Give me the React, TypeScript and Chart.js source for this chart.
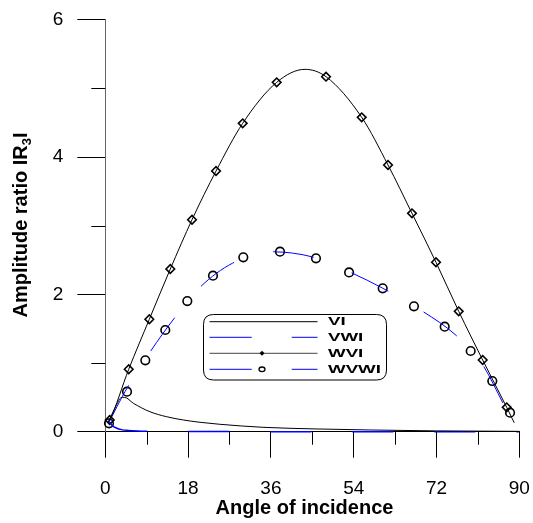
import React, { useEffect, useRef } from "react";
import { Chart, registerables } from "chart.js";

Chart.register(...registerables);

// ---- Data ----
// VI (thin black line)
const viX = [0.6, 1.5, 2.5, 3.3, 4.2, 6.1, 9.7, 13.35, 17, 20.6, 24.9, 34.3, 46, 57.5, 72, 90];
const viY = [0.14, 0.26, 0.4, 0.49, 0.5, 0.414, 0.291, 0.218, 0.17, 0.137, 0.108, 0.064, 0.04, 0.025, 0.012, 0.005];

// VWI (blue dashed line, near zero)
const vwiX = [0.87, 1.5, 2.5, 3.5, 5, 7, 10, 18, 36, 54, 72, 90];
const vwiY = [0.146, 0.09, 0.05, 0.03, 0.018, 0.01, 0.006, 0.003, 0.001, 0.0005, 0.0002, 0];

// WVI (black line with diamonds)
const wviLineX = [0.5, 0.96, 5.09, 9.57, 14.13, 18.85, 24.07, 29.87, 37.26, 43.4, 47.98, 55.74, 61.46, 66.67, 71.89, 76.83, 82.04, 87.26, 88.9];
const wviLineY = [0.13, 0.17, 0.909, 1.637, 2.369, 3.087, 3.796, 4.491, 5.088, 5.277, 5.17, 4.578, 3.884, 3.18, 2.467, 1.753, 1.044, 0.355, 0.13];
const wviMarkX = [0.96, 5.09, 9.57, 14.13, 18.85, 24.07, 29.87, 37.26, 47.98, 55.74, 61.46, 66.67, 71.89, 76.83, 82.04, 87.26];
const wviMarkY = [0.17, 0.909, 1.637, 2.369, 3.087, 3.796, 4.491, 5.088, 5.17, 4.578, 3.884, 3.18, 2.467, 1.753, 1.044, 0.355];

// WVWI (blue dashed line with circles)
const wvwiLineX = [0.87, 4.28, 9.72, 14.87, 20.59, 27.6, 35.8, 44.87, 53.0, 60.3, 68.78, 76.24, 81.83, 86.67, 88.4];
const wvwiLineY = [0.146, 0.583, 1.16, 1.641, 2.103, 2.452, 2.621, 2.548, 2.33, 2.09, 1.762, 1.404, 0.996, 0.389, 0.17];
const wvwiMarkX = [0.8, 4.72, 8.7, 13.04, 17.83, 23.41, 30.0, 37.98, 45.8, 53.0, 60.3, 67.1, 73.78, 79.43, 84.13, 87.98];
const wvwiMarkY = [0.122, 0.583, 1.04, 1.481, 1.903, 2.272, 2.54, 2.621, 2.525, 2.32, 2.088, 1.826, 1.529, 1.175, 0.738, 0.277];

const xMinorTicks = [9, 27, 45, 63, 81];
const yMinorTicks = [1, 3, 5];
const legendLabels = ["VI", "VWI", "WVI", "WVWI"];
const xTitle = "Angle of incidence";
const yTitleMain = "Amplitude ratio IR";
const yTitleSub = "3";
const yTitleEnd = "I";

const pts = (xs: number[], ys: number[]) => xs.map((x, i) => ({ x, y: ys[i] }));

const FONT = "'Liberation Sans', Arial, sans-serif";
const BLUE = "#0000ff";
const DASH = [41, 41];

const decorPlugin = {
  id: "decor",
  afterDraw(chart: any) {
    const ctx = chart.ctx as CanvasRenderingContext2D;
    const area = chart.chartArea;
    const xs = chart.scales.x;
    const ys = chart.scales.y;
    ctx.save();
    // minor ticks
    ctx.strokeStyle = "#000";
    ctx.lineWidth = 1;
    ctx.beginPath();
    for (const v of xMinorTicks) {
      const px = Math.round(xs.getPixelForValue(v)) + 0.5;
      ctx.moveTo(px, area.bottom);
      ctx.lineTo(px, area.bottom + 13);
    }
    for (const v of yMinorTicks) {
      const py = Math.round(ys.getPixelForValue(v)) + 0.5;
      ctx.moveTo(area.left - 14, py);
      ctx.lineTo(area.left, py);
    }
    ctx.stroke();

    // x title
    ctx.fillStyle = "#000";
    ctx.font = `bold 20px ${FONT}`;
    ctx.textAlign = "center";
    ctx.textBaseline = "middle";
    ctx.fillText(xTitle, 304.5, 508);

    // y title with subscript
    ctx.save();
    ctx.translate(20, 225);
    ctx.rotate(-Math.PI / 2);
    const mainFont = `bold 20px ${FONT}`;
    const subFont = `bold 13px ${FONT}`;
    ctx.font = mainFont;
    const w1 = ctx.measureText(yTitleMain).width;
    const w3 = ctx.measureText(yTitleEnd).width;
    ctx.font = subFont;
    const w2 = ctx.measureText(yTitleSub).width;
    const total = w1 + w2 + w3;
    let cx = -total / 2;
    ctx.textAlign = "left";
    ctx.textBaseline = "alphabetic";
    ctx.font = mainFont;
    ctx.fillText(yTitleMain, cx, 7);
    cx += w1;
    ctx.font = subFont;
    ctx.fillText(yTitleSub, cx, 11);
    cx += w2;
    ctx.font = mainFont;
    ctx.fillText(yTitleEnd, cx, 7);
    ctx.restore();

    // legend box
    const bx = 203.5, by = 314.5, bw = 183, bh = 65.5, r = 10;
    ctx.beginPath();
    ctx.moveTo(bx + r, by);
    ctx.lineTo(bx + bw - r, by);
    ctx.quadraticCurveTo(bx + bw, by, bx + bw, by + r);
    ctx.lineTo(bx + bw, by + bh - r);
    ctx.quadraticCurveTo(bx + bw, by + bh, bx + bw - r, by + bh);
    ctx.lineTo(bx + r, by + bh);
    ctx.quadraticCurveTo(bx, by + bh, bx, by + bh - r);
    ctx.lineTo(bx, by + r);
    ctx.quadraticCurveTo(bx, by, bx + r, by);
    ctx.closePath();
    ctx.fillStyle = "#fff";
    ctx.fill();
    ctx.strokeStyle = "#000";
    ctx.lineWidth = 1;
    ctx.stroke();

    const rows = [321.7, 337.3, 353.3, 369.3];
    const lx0 = 209.5, lx1 = 317.5, mx = 262;
    // row 1: solid black
    ctx.lineWidth = 1;
    ctx.strokeStyle = "#000";
    ctx.beginPath();
    ctx.moveTo(lx0, rows[0]);
    ctx.lineTo(lx1, rows[0]);
    ctx.stroke();
    // row 2: blue dashed
    ctx.strokeStyle = BLUE;
    ctx.beginPath();
    ctx.moveTo(lx0, rows[1]);
    ctx.lineTo(251.7, rows[1]);
    ctx.moveTo(291.7, rows[1]);
    ctx.lineTo(lx1, rows[1]);
    ctx.stroke();
    // row 3: gray line with small diamond
    ctx.strokeStyle = "#444";
    ctx.beginPath();
    ctx.moveTo(lx0, rows[2]);
    ctx.lineTo(lx1, rows[2]);
    ctx.stroke();
    ctx.fillStyle = "#000";
    ctx.beginPath();
    ctx.moveTo(mx, rows[2] - 2.5);
    ctx.lineTo(mx + 2.5, rows[2]);
    ctx.lineTo(mx, rows[2] + 2.5);
    ctx.lineTo(mx - 2.5, rows[2]);
    ctx.closePath();
    ctx.fill();
    // row 4: blue dashed with small circle
    ctx.strokeStyle = BLUE;
    ctx.beginPath();
    ctx.moveTo(lx0, rows[3]);
    ctx.lineTo(251.7, rows[3]);
    ctx.moveTo(291.7, rows[3]);
    ctx.lineTo(lx1, rows[3]);
    ctx.stroke();
    ctx.strokeStyle = "#000";
    ctx.lineWidth = 1.3;
    ctx.beginPath();
    ctx.ellipse(mx, rows[3], 3, 2.3, 0, 0, Math.PI * 2);
    ctx.stroke();

    // legend labels (wide bold)
    ctx.fillStyle = "#000";
    ctx.font = `bold 11px ${FONT}`;
    ctx.textAlign = "left";
    ctx.textBaseline = "middle";
    legendLabels.forEach((lab, i) => {
      ctx.save();
      ctx.translate(328, rows[i] + 0.5);
      ctx.scale(1.7, 1);
      ctx.fillText(lab, 0, 0);
      ctx.restore();
    });
    ctx.restore();
  },
};

export default function App() {
  const ref = useRef<HTMLCanvasElement | null>(null);

  useEffect(() => {
    if (!ref.current) return;
    Chart.defaults.font.family = FONT;
    const chart = new Chart(ref.current, {
      type: "line",
      data: {
        datasets: [
          {
            label: "VI",
            data: pts(viX, viY),
            borderColor: "#000",
            borderWidth: 1,
            pointRadius: 0,
            cubicInterpolationMode: "monotone",
            clip: false as any,
          },
          {
            label: "VWI",
            data: pts(vwiX, vwiY),
            borderColor: BLUE,
            borderWidth: 1.5,
            borderDash: DASH,
            pointRadius: 0,
            cubicInterpolationMode: "monotone",
            clip: false as any,
          },
          {
            label: "WVI",
            data: pts(wviLineX, wviLineY),
            borderColor: "#000",
            borderWidth: 1,
            pointRadius: 0,
            cubicInterpolationMode: "monotone",
            clip: false as any,
          },
          {
            label: "WVI markers",
            data: pts(wviMarkX, wviMarkY),
            showLine: false,
            pointStyle: "rectRot",
            pointRadius: 4.3,
            pointBorderWidth: 1.6,
            pointBorderColor: "#000",
            pointBackgroundColor: "rgba(0,0,0,0)",
            clip: false as any,
          },
          {
            label: "WVWI",
            data: pts(wvwiLineX, wvwiLineY),
            borderColor: BLUE,
            borderWidth: 1,
            borderDash: DASH,
            pointRadius: 0,
            cubicInterpolationMode: "monotone",
            clip: false as any,
          },
          {
            label: "WVWI markers",
            data: pts(wvwiMarkX, wvwiMarkY),
            showLine: false,
            pointStyle: "circle",
            pointRadius: 4.3,
            pointBorderWidth: 1.6,
            pointBorderColor: "#000",
            pointBackgroundColor: "rgba(0,0,0,0)",
            clip: false as any,
          },
        ],
      },
      options: {
        animation: false,
        responsive: false,
        devicePixelRatio: 1,
        events: [],
        layout: { padding: { left: 0, right: 13.7, top: 19.7, bottom: 0 } },
        plugins: {
          legend: { display: false },
          tooltip: { enabled: false },
          title: { display: false },
        },
        scales: {
          x: {
            type: "linear",
            position: "bottom",
            min: 0,
            max: 90,
            ticks: {
              stepSize: 18,
              color: "#000",
              font: { size: 19, family: FONT },
              padding: 20,
              maxRotation: 0,
              autoSkip: false,
            },
            grid: {
              drawOnChartArea: false,
              drawTicks: true,
              tickLength: 26,
              color: "#000",
              lineWidth: 1,
            },
            border: { display: true, color: "#000", width: 1 },
            afterFit: (s: any) => {
              s.height = 91.3;
              s.paddingLeft = 0;
              s.paddingRight = 0;
              s.paddingTop = 0;
              s.paddingBottom = 0;
            },
          },
          y: {
            type: "linear",
            position: "left",
            min: 0,
            max: 6,
            ticks: {
              stepSize: 2,
              color: "#000",
              font: { size: 19, family: FONT },
              padding: 14,
            },
            grid: {
              drawOnChartArea: false,
              drawTicks: true,
              tickLength: 28,
              color: "#000",
              lineWidth: 1,
            },
            border: { display: true, color: "#666", width: 1 },
            afterFit: (s: any) => {
              s.width = 105.3;
              s.paddingLeft = 0;
              s.paddingRight = 0;
              s.paddingTop = 0;
              s.paddingBottom = 0;
            },
          },
        },
      },
      plugins: [decorPlugin],
    } as any);
    return () => chart.destroy();
  }, []);

  return (
    <div style={{ position: "absolute", left: 0, top: 0, width: 533, height: 523, background: "#fff" }}>
      <canvas ref={ref} width={533} height={523} style={{ display: "block" }} />
    </div>
  );
}
